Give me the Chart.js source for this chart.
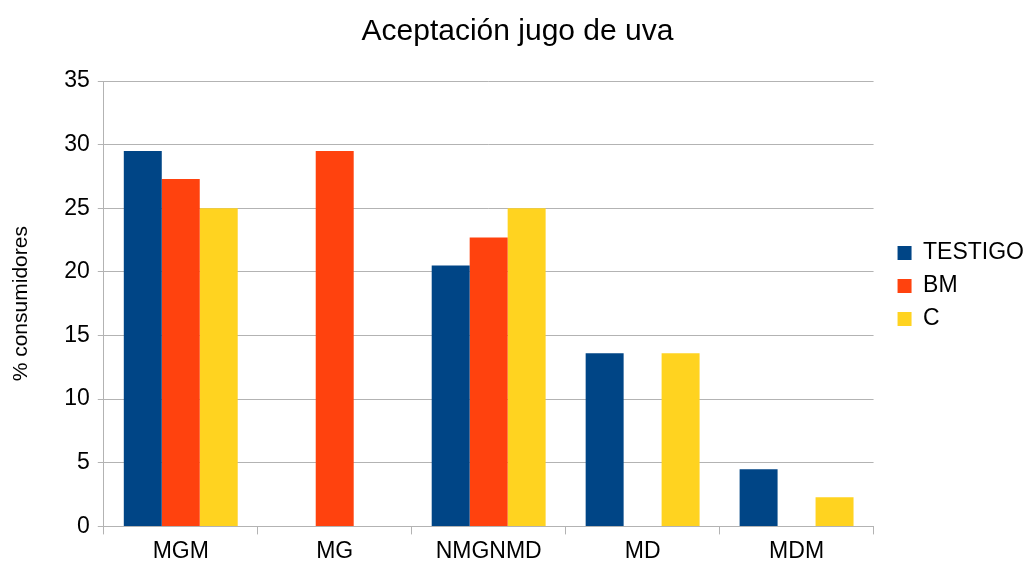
<!DOCTYPE html>
<html>
<head>
<meta charset="utf-8">
<script src="https://cdn.jsdelivr.net/npm/chart.js@4"></script>
<style>
  html, body { margin: 0; padding: 0; background: #ffffff; }
  #wrap { width: 1026px; height: 568px; }
</style>
</head>
<body>
<div id="wrap"><canvas id="chart" width="1026" height="568"></canvas></div>
<script>
// Datos del gráfico
const categorias = ['MGM', 'MG', 'NMGNMD', 'MD', 'MDM'];
const testigo = [29.5, 0, 20.5, 13.6, 4.5];
const bm = [27.3, 29.5, 22.7, 0, 0];
const c = [25, 0, 25, 13.6, 2.3];

const FONT = 'Liberation Sans, Arial, sans-serif';
const gridColor = '#b3b3b3';

// Ajusta el ancho de la leyenda y la desplaza un poco a la derecha
const legendGap = {
    id: 'legendGap',
    beforeInit(chart) {
        const legend = chart.legend;
        if (!legend) return;
        const fit = legend.fit;
        legend.fit = function () {
            fit.call(this);
            this.width += 6;
        };
        const draw = legend.draw;
        legend.draw = function () {
            const c = this.ctx;
            c.save();
            c.translate(14, 0);
            draw.call(this);
            c.restore();
        };
    }
};

const ctx = document.getElementById('chart').getContext('2d');
new Chart(ctx, {
    type: 'bar',
    data: {
        labels: categorias,
        datasets: [
            { label: 'TESTIGO', data: testigo, backgroundColor: '#004586' },
            { label: 'BM', data: bm, backgroundColor: '#ff420e' },
            { label: 'C', data: c, backgroundColor: '#ffd320' }
        ]
    },
    plugins: [legendGap],
    options: {
        responsive: false,
        animation: false,
        datasets: {
            bar: { barPercentage: 1, categoryPercentage: 0.74 }
        },
        layout: { padding: { left: 9, right: 0, top: 4, bottom: 0 } },
        plugins: {
            title: {
                display: true,
                text: 'Aceptación jugo de uva',
                color: '#000000',
                font: { family: FONT, size: 30, weight: 'normal' },
                padding: { top: 10, bottom: 31 }
            },
            legend: {
                position: 'right',
                labels: {
                    boxWidth: 14,
                    boxHeight: 14,
                    color: '#000000',
                    padding: 10,
                    font: { family: FONT, size: 23 }
                }
            },
            tooltip: { enabled: false }
        },
        scales: {
            x: {
                grid: {
                    display: true,
                    drawOnChartArea: false,
                    drawTicks: true,
                    tickLength: 8,
                    color: gridColor
                },
                border: { color: gridColor },
                ticks: {
                    color: '#000000',
                    padding: 3,
                    font: { family: FONT, size: 23 }
                }
            },
            y: {
                min: 0,
                max: 35,
                grid: {
                    color: gridColor,
                    tickLength: 6
                },
                border: { color: gridColor },
                ticks: {
                    stepSize: 5,
                    color: '#000000',
                    padding: 8,
                    font: { family: FONT, size: 23 }
                },
                title: {
                    display: true,
                    text: '% consumidores',
                    color: '#000000',
                    font: { family: FONT, size: 21 },
                    padding: { top: 0, bottom: 22 }
                }
            }
        }
    }
});
</script>
</body>
</html>
